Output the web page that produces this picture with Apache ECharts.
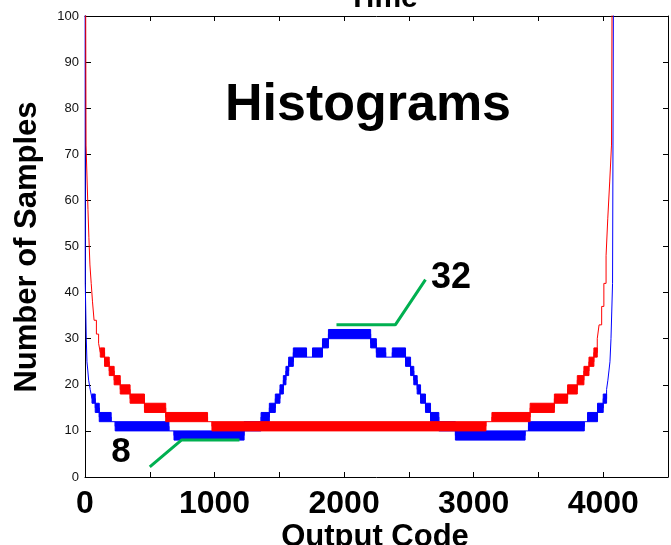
<!DOCTYPE html>
<html>
<head>
<meta charset="utf-8">
<script src="https://cdn.jsdelivr.net/npm/echarts@6/dist/echarts.min.js"></script>
<style>
html,body{margin:0;padding:0;background:#fff;}
#c{width:671px;height:545px;}
</style>
</head>
<body>
<div id="c"></div>
<script>
// ---- data (code start, code end, low count, high count) ----
const blueSegments = [
 [0,2,160,160],[2,6,42,42],[6,10,36,36],[10,15,30,30],[15,22,25,25],[22,28,23,23],
 [28,40,21,21],[40,54,19,19],[54,79,16,18],[79,110,14,16],[110,202,12,14],[202,233,12,12],
 [233,648,10,12],[648,687,10,10],[687,1228,8,10],[1228,1359,10,12],[1359,1423,12,14],
 [1423,1469,14,16],[1469,1505,16,18],[1505,1531,18,20],[1531,1551,20,22],[1551,1572,22,24],
 [1572,1608,24,26],[1608,1710,26,28],[1710,1756,26,26],[1756,1833,26,28],[1833,1879,28,30],
 [1879,2205,30,32],[2205,2249,28,30],[2249,2321,26,28],[2321,2372,26,26],[2372,2474,26,28],
 [2474,2513,24,26],[2513,2538,22,24],[2538,2564,20,22],[2564,2590,18,20],[2590,2628,16,18],
 [2628,2667,14,16],[2667,2731,12,14],[2731,2859,10,12],[2859,3397,8,10],[3397,3423,10,10],
 [3423,3854,10,12],[3854,3879,12,12],[3879,3956,12,14],[3956,4000,14,16],[4000,4026,16,18],
 [4026,4036,19,19],[4036,4044,21,21],[4044,4052,23,23],[4052,4060,25,25],[4060,4066,30,30],
 [4066,4072,36,36],[4072,4085,42,42],[4085,4095,160,160]
];
const redSegments = [
 [0,8,160,160],[8,23,72,72],[23,30,58,58],[30,38,52,52],[38,48,46,46],[48,58,42,42],
 [58,70,38,38],[70,88,34,34],[88,105,31,31],[105,118,29,29],[118,151,26,28],[151,187,24,26],
 [187,225,22,24],[225,272,20,22],[272,348,18,20],[348,459,16,18],[459,623,14,16],
 [623,946,12,14],[946,980,12,12],[980,3095,10,12],[3095,3141,12,12],[3141,3436,12,14],
 [3436,3623,14,16],[3623,3725,16,18],[3725,3800,18,20],[3800,3851,20,22],[3851,3890,22,24],
 [3890,3928,24,26],[3928,3954,26,28],[3954,3968,30,30],[3968,3988,33,33],[3988,4005,37,37],
 [4005,4022,42,42],[4022,4035,48,48],[4035,4050,56,56],[4050,4064,64,64],[4064,4076,72,72],
 [4076,4095,160,160]
];
const annot32 = [[1941,33],[2395,33],[2628,42.8]];
const annot8 = [[500,2.2],[744,8],[1192,8]];
const xTickLabels = [0,1000,2000,3000,4000];
const yTicks = [0,10,20,30,40,50,60,70,80,90,100];

const FONT = "'Liberation Sans', Arial, Helvetica, sans-serif";
const BLUE = '#0000ff', RED = '#ff0000', GREEN = '#00b050';

function linePoints(segs){
  const pts = [];
  segs.forEach(s => { const m = (s[2]+s[3])/2; pts.push([s[0], m]); pts.push([s[1], m]); });
  return pts;
}
function bandRender(color){
  return function(params, api){
    const c0 = api.value(0), c1 = api.value(1), lo = api.value(2), hi = api.value(3);
    const p0 = api.coord([c0, hi]), p1 = api.coord([c1, lo]);
    const rect = echarts.graphic.clipRectByRect(
      {x: p0[0], y: p0[1], width: p1[0]-p0[0], height: p1[1]-p0[1]},
      {x: params.coordSys.x, y: params.coordSys.y, width: params.coordSys.width, height: params.coordSys.height});
    if (!rect) return;
    return {type:'rect', shape: rect, style:{fill: color, stroke: color, lineWidth: 1}};
  };
}

const chart = echarts.init(document.getElementById('c'), null, {renderer:'canvas'});
const axisLineStyle = {color:'#000', width:1};
chart.setOption({
  animation: false,
  backgroundColor: '#fff',
  grid: {left: 85, top: 16, right: 1, bottom: 68, containLabel: false},
  xAxis: [{
    type:'value', min:0, max:4500, interval:500, position:'bottom',
    axisLine:{show:true, onZero:false, lineStyle:axisLineStyle},
    axisTick:{show:true, inside:true, length:5, lineStyle:axisLineStyle},
    splitLine:{show:false},
    axisLabel:{margin:11, color:'#000', fontFamily:FONT, fontWeight:'bold', fontSize:32,
      formatter: v => xTickLabels.indexOf(v) >= 0 ? String(v) : ''}
  },{
    type:'value', min:0, max:4500, interval:500, position:'top',
    axisLine:{show:true, onZero:false, lineStyle:axisLineStyle},
    axisTick:{show:true, inside:true, length:5, lineStyle:axisLineStyle},
    splitLine:{show:false}, axisLabel:{show:false}
  }],
  yAxis: [{
    type:'value', min:yTicks[0], max:yTicks[yTicks.length-1], interval:10, position:'left',
    axisLine:{show:true, onZero:false, lineStyle:axisLineStyle},
    axisTick:{show:true, inside:true, length:6, lineStyle:axisLineStyle},
    splitLine:{show:false},
    axisLabel:{margin:6, color:'#111', fontFamily:FONT, fontSize:13}
  },{
    type:'value', min:0, max:100, interval:10, position:'right',
    axisLine:{show:true, onZero:false, lineStyle:axisLineStyle},
    axisTick:{show:true, inside:true, length:5, lineStyle:axisLineStyle},
    splitLine:{show:false}, axisLabel:{show:false}
  }],
  series: [
    {type:'line', data: linePoints(blueSegments), symbol:'none', clip:true,
     lineStyle:{color:BLUE, width:1}, z:2},
    {type:'custom', data: blueSegments.filter(s => s[3] > s[2]), renderItem: bandRender(BLUE),
     encode:{x:[0,1], y:[2,3]}, clip:true, z:2},
    {type:'line', data: linePoints(redSegments), symbol:'none', clip:true,
     lineStyle:{color:RED, width:1}, z:3},
    {type:'custom', data: redSegments.filter(s => s[3] > s[2]), renderItem: bandRender(RED),
     encode:{x:[0,1], y:[2,3]}, clip:true, z:3},
    {type:'line', data: annot32, symbol:'none', lineStyle:{color:GREEN, width:3}, z:4},
    {type:'line', data: annot8, symbol:'none', lineStyle:{color:GREEN, width:3}, z:4}
  ],
  graphic: [
    {type:'text', x:383, y:-1, style:{text:'Time', font:'bold 30px '+FONT, fill:'#000',
      textAlign:'center', textVerticalAlign:'middle', align:'center', verticalAlign:'middle'}},
    {type:'text', x:368, y:106, style:{text:'Histograms', font:'bold 52px '+FONT, fill:'#000',
      textAlign:'center', textVerticalAlign:'middle', align:'center', verticalAlign:'middle'}},
    {type:'text', x:451, y:278, style:{text:'32', font:'bold 36px '+FONT, fill:'#000',
      textAlign:'center', textVerticalAlign:'middle', align:'center', verticalAlign:'middle'}},
    {type:'text', x:121, y:452, style:{text:'8', font:'bold 35px '+FONT, fill:'#000',
      textAlign:'center', textVerticalAlign:'middle', align:'center', verticalAlign:'middle'}},
    {type:'text', x:27, y:247, rotation:Math.PI/2, style:{text:'Number of Samples', font:'bold 31px '+FONT, fill:'#000',
      textAlign:'center', textVerticalAlign:'middle', align:'center', verticalAlign:'middle'}},
    {type:'text', x:375, y:537, style:{text:'Output Code', font:'bold 31px '+FONT, fill:'#000',
      textAlign:'center', textVerticalAlign:'middle', align:'center', verticalAlign:'middle'}}
  ]
});
</script>
</body>
</html>
